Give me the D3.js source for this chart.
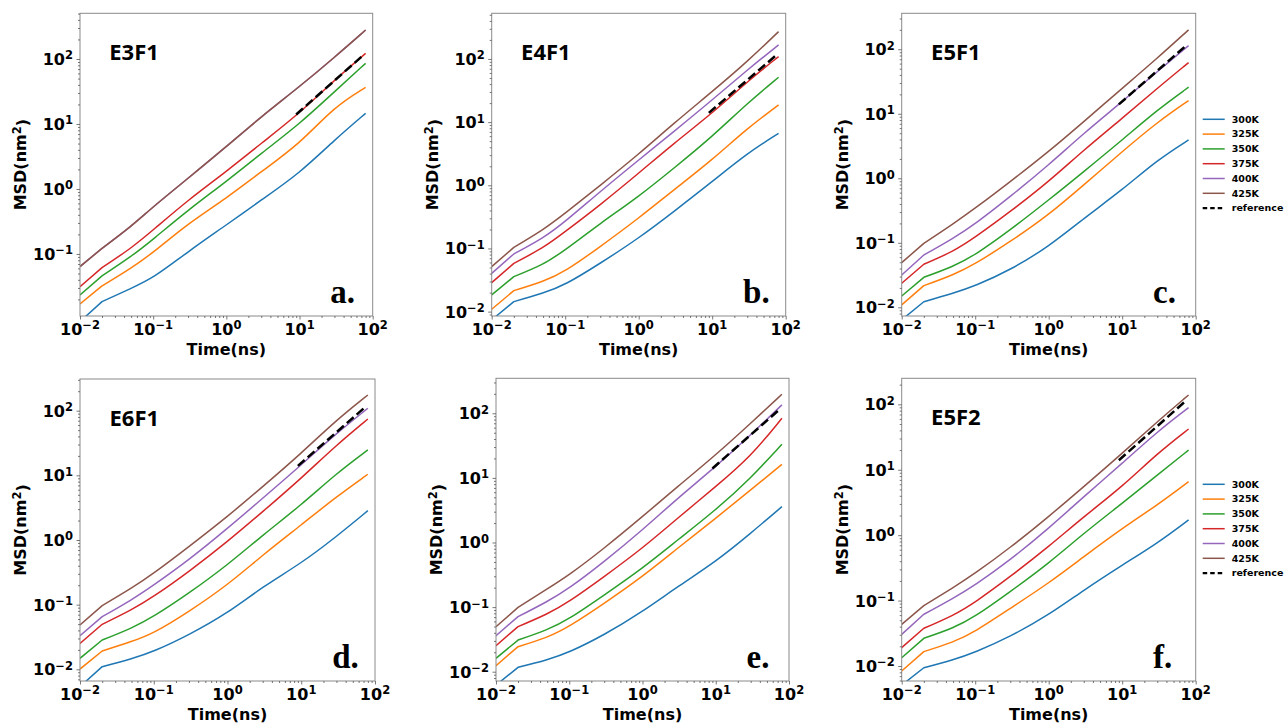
<!DOCTYPE html>
<html>
<head>
<meta charset="utf-8">
<script src="https://cdn.jsdelivr.net/npm/d3@7"></script>
<style>
  body { margin: 0; background: #fff; }
  svg { display: block; font-family: "DejaVu Sans", sans-serif; }
</style>
</head>
<body>
<svg id="graphic" width="1287" height="726"></svg>
<script>
// sample times (ns), shared by every curve
const time = [0.01, 0.02, 0.05, 0.1, 0.3, 1, 3, 10, 30, 80];
const temps = ['300K', '325K', '350K', '375K', '400K', '425K'];
const colors = ['#1f77b4', '#ff7f0e', '#2ca02c', '#d62728', '#9467bd', '#8c564b'];

// reference slope-1 line
const refTime = [9, 72];
const refMSD = [14, 111];

// MSD (nm^2), one row per temperature 300K..425K
const msdE3F1 = [
  [0.0091, 0.0185, 0.0296, 0.0423, 0.109, 0.279, 0.678, 1.74, 5.67, 14.6],
  [0.0170, 0.0322, 0.0601, 0.105, 0.296, 0.718, 1.85, 4.92, 18.5, 36.6],
  [0.0234, 0.0459, 0.091, 0.168, 0.475, 1.30, 3.54, 10.0, 31.4, 85.8],
  [0.0314, 0.0617, 0.122, 0.234, 0.678, 1.85, 5.04, 14.6, 47.5, 122],
  [0.064, 0.122, 0.264, 0.535, 1.46, 4.48, 13.0, 37.5, 106, 279],
  [0.064, 0.122, 0.264, 0.535, 1.46, 4.48, 13.0, 37.5, 106, 279],
];
const msdE4F1 = [
  [0.0074, 0.0144, 0.0195, 0.0264, 0.0582, 0.145, 0.383, 1.14, 3.21, 6.65],
  [0.0109, 0.0215, 0.0298, 0.0430, 0.107, 0.301, 0.844, 2.52, 7.98, 18.7],
  [0.0184, 0.0358, 0.0548, 0.0946, 0.250, 0.662, 1.86, 5.89, 19.9, 51.3],
  [0.0288, 0.0582, 0.101, 0.185, 0.490, 1.55, 4.62, 13.8, 43.8, 109],
  [0.0404, 0.0818, 0.145, 0.266, 0.800, 2.52, 7.08, 22.4, 67, 167],
  [0.0515, 0.104, 0.196, 0.360, 1.00, 3.10, 9.59, 30.4, 90.7, 271],
];
const msdE5F1 = [
  [0.0064, 0.0122, 0.0165, 0.0214, 0.0379, 0.0873, 0.240, 0.659, 1.92, 3.93],
  [0.0109, 0.0217, 0.0317, 0.0470, 0.104, 0.270, 0.789, 2.59, 7.40, 16.0],
  [0.0150, 0.0292, 0.0427, 0.0648, 0.158, 0.461, 1.27, 3.93, 11.5, 25.8],
  [0.0236, 0.0465, 0.0729, 0.122, 0.304, 0.887, 2.75, 8.51, 24.8, 62.1],
  [0.0317, 0.0648, 0.117, 0.196, 0.520, 1.61, 4.99, 15.4, 45.1, 114],
  [0.0493, 0.0982, 0.196, 0.343, 0.887, 2.59, 7.56, 24.8, 72.5, 200],
];
const msdE6F1 = [
  [0.0054, 0.0110, 0.0145, 0.0188, 0.0340, 0.0735, 0.190, 0.436, 1.13, 2.84],
  [0.0101, 0.0192, 0.0268, 0.0361, 0.0780, 0.201, 0.586, 1.71, 4.68, 10.4],
  [0.0148, 0.0284, 0.0431, 0.0652, 0.150, 0.410, 1.19, 3.48, 10.7, 24.7],
  [0.0252, 0.0497, 0.0828, 0.133, 0.324, 0.942, 2.74, 8.99, 29.4, 74.3],
  [0.0332, 0.0652, 0.118, 0.201, 0.491, 1.51, 4.41, 14.5, 44.6, 109],
  [0.0485, 0.0966, 0.179, 0.305, 0.789, 2.30, 6.68, 21.9, 71.7, 175],
];
const msdE = [
  [0.0062, 0.0117, 0.0152, 0.0199, 0.0370, 0.0849, 0.207, 0.505, 1.39, 3.59],
  [0.0124, 0.0244, 0.0336, 0.0498, 0.114, 0.296, 0.813, 2.37, 6.50, 16.2],
  [0.0161, 0.0309, 0.0442, 0.0653, 0.154, 0.398, 1.09, 3.18, 9.86, 33.1],
  [0.0253, 0.0498, 0.0773, 0.121, 0.296, 0.813, 2.37, 7.32, 21.3, 83.7],
  [0.0361, 0.0711, 0.121, 0.195, 0.505, 1.56, 4.83, 14.9, 46.2, 135],
  [0.0498, 0.0991, 0.191, 0.314, 0.813, 2.51, 7.32, 22.6, 70.0, 197],
];
const msdE5F2 = [
  [0.0051, 0.0094, 0.0124, 0.0162, 0.0281, 0.0603, 0.145, 0.350, 0.750, 1.71],
  [0.0084, 0.0166, 0.0230, 0.0335, 0.0762, 0.184, 0.469, 1.27, 2.89, 6.58],
  [0.0134, 0.0265, 0.0377, 0.0568, 0.137, 0.371, 1.07, 3.07, 8.32, 20.0],
  [0.0191, 0.0377, 0.0588, 0.094, 0.232, 0.667, 1.92, 5.51, 17.8, 42.0],
  [0.0305, 0.0617, 0.108, 0.173, 0.417, 1.27, 3.88, 12.5, 38.2, 88.9],
  [0.0434, 0.0836, 0.157, 0.261, 0.644, 1.92, 5.51, 17.8, 54.3, 139],
];

const panels = [
  { title: 'E3F1', tag: 'a.', msd: msdE3F1, y: [0.0111, 505], box: [80, 13.3, 372.7, 316], legend: false },
  { title: 'E4F1', tag: 'b.', msd: msdE4F1, y: [0.00853, 528], box: [491.7, 13.3, 785.7, 316], legend: false },
  { title: 'E5F1', tag: 'c.', msd: msdE5F1, y: [0.00734, 361], box: [901.7, 13.3, 1195.7, 316], legend: true },
  { title: 'E6F1', tag: 'd.', msd: msdE6F1, y: [0.0066, 309], box: [80, 379, 375, 681], legend: false },
  { title: '', tag: 'e.', msd: msdE, y: [0.00718, 348], box: [496, 378.3, 789, 681], legend: false },
  { title: 'E5F2', tag: 'f.', msd: msdE5F2, y: [0.0059, 250], box: [901.7, 378.3, 1195.7, 681], legend: true },
];

const svg = d3.select('#graphic');
const spine = '#8a8a8a';

function powLabel(sel, v) {
  const e = Math.round(Math.log10(v));
  sel.text('10');
  sel.append('tspan')
      .attr('dy', '-0.48em')
      .attr('font-size', '72%')
      .text(String(e).replace('-', '\u2212'));
}

panels.forEach((p, idx) => {
  const [x0, y0, x1, y1] = p.box;
  const w = x1 - x0;
  const h = y1 - y0;

  const x = d3.scaleLog().domain([0.01, 100]).range([0, w]);
  const y = d3.scaleLog().domain(p.y).range([h, 0]);

  const g = svg.append('g').attr('transform', `translate(${x0}, ${y0})`);

  g.append('clipPath')
      .attr('id', `clip${idx}`)
      .append('rect')
      .attr('width', w)
      .attr('height', h);

  const plot = g.append('g').attr('clip-path', `url(#clip${idx})`);

  const straight = d3.line()
      .x((d) => x(d[0]))
      .y((d) => y(d[1]));
  const smooth = d3.line()
      .curve(d3.curveBasis)
      .x((d) => x(d[0]))
      .y((d) => y(d[1]));

  // first step straight (the kink at 20 ps), the rest as a smooth curve
  p.msd.forEach((row, i) => {
    const pts = time.map((t, k) => [t, row[k]]);
    plot.append('path')
        .attr('fill', 'none')
        .attr('stroke', colors[i])
        .attr('stroke-width', 1.5)
        .attr('stroke-linejoin', 'round')
        .attr('d', straight(pts.slice(0, 2)) + smooth(pts.slice(1)).replace(/^M[^C]*/, ''));
  });

  plot.append('path')
      .datum(refTime.map((t, k) => [t, refMSD[k]]))
      .attr('fill', 'none')
      .attr('stroke', '#000')
      .attr('stroke-width', 2.5)
      .attr('stroke-dasharray', '9,4')
      .attr('d', straight);

  // frame
  g.append('rect')
      .attr('width', w)
      .attr('height', h)
      .attr('fill', 'none')
      .attr('stroke', spine)
      .attr('stroke-width', 1);

  // ticks
  const isDecade = (t) => Math.abs(Math.log10(t) - Math.round(Math.log10(t))) < 1e-6;
  const xMajor = [0.01, 0.1, 1, 10, 100];
  const xMinor = x.ticks().filter((t) => !isDecade(t));
  const yMajor = y.ticks().filter(isDecade);
  const yMinor = y.ticks().filter((t) => !isDecade(t));

  const xAxis = d3.axisBottom(x).tickValues(xMajor).tickSize(3.5).tickFormat('');
  const xAxisMinor = d3.axisBottom(x).tickValues(xMinor).tickSize(2).tickFormat('');
  const yAxis = d3.axisLeft(y).tickValues(yMajor).tickSize(3.5).tickFormat('');
  const yAxisMinor = d3.axisLeft(y).tickValues(yMinor).tickSize(2).tickFormat('');

  [[xAxis, true], [xAxisMinor, true], [yAxis, false], [yAxisMinor, false]].forEach(([ax, isX]) => {
    const a = g.append('g')
        .attr('transform', isX ? `translate(0, ${h})` : null)
        .call(ax);
    a.select('.domain').remove();
    a.selectAll('line').attr('stroke', '#555').attr('stroke-width', 0.8);
  });

  g.selectAll('.xlab')
      .data(xMajor)
      .enter()
      .append('text')
      .attr('x', (d) => x(d))
      .attr('y', h + 19)
      .attr('text-anchor', 'middle')
      .attr('font-size', 16)
      .attr('font-weight', 'bold')
      .each(function(d) { powLabel(d3.select(this), d); });

  g.selectAll('.ylab')
      .data(yMajor)
      .enter()
      .append('text')
      .attr('x', -7)
      .attr('y', (d) => y(d) + 6)
      .attr('text-anchor', 'end')
      .attr('font-size', 16)
      .attr('font-weight', 'bold')
      .each(function(d) { powLabel(d3.select(this), d); });

  g.append('text')
      .attr('x', w / 2)
      .attr('y', h + 39)
      .attr('text-anchor', 'middle')
      .attr('font-size', 16)
      .attr('font-weight', 'bold')
      .text('Time(ns)');

  const yl = g.append('text')
      .attr('transform', `translate(-54, ${h / 2}) rotate(-90)`)
      .attr('text-anchor', 'middle')
      .attr('font-size', 16)
      .attr('font-weight', 'bold')
      .text('MSD(nm');
  yl.append('tspan').attr('dy', '-0.45em').attr('font-size', '72%').text('2');
  yl.append('tspan').attr('dy', '0.45em').text(')');

  if (p.title) {
    g.append('text')
        .attr('x', w * 0.1)
        .attr('y', 47)
        .style('font-family', '"Open Sans", sans-serif')
        .attr('font-size', 22)
        .attr('font-weight', 'bold')
        .text(p.title);
  }

  g.append('text')
      .attr('x', w * 0.855)
      .attr('y', h - 13)
      .style('font-family', '"Liberation Serif", serif')
      .attr('font-size', 33)
      .attr('font-weight', 'bold')
      .text(p.tag);

  if (p.legend) {
    const lg = g.append('g').attr('transform', `translate(${w + 7}, ${106})`);
    const items = temps.map((t, i) => ({ label: t, color: colors[i], dash: null }))
        .concat([{ label: 'reference', color: '#000', dash: '4.5,3' }]);
    items.forEach((it, i) => {
      lg.append('line')
          .attr('x1', 0)
          .attr('x2', 22)
          .attr('y1', i * 14.8)
          .attr('y2', i * 14.8)
          .attr('stroke', it.color)
          .attr('stroke-width', it.dash ? 2.2 : 1.5)
          .attr('stroke-dasharray', it.dash);
      lg.append('text')
          .attr('x', 29)
          .attr('y', i * 14.8 + 3.4)
          .attr('font-size', 9.5)
          .attr('font-weight', 'bold')
          .text(it.label);
    });
  }
});
</script>
</body>
</html>
